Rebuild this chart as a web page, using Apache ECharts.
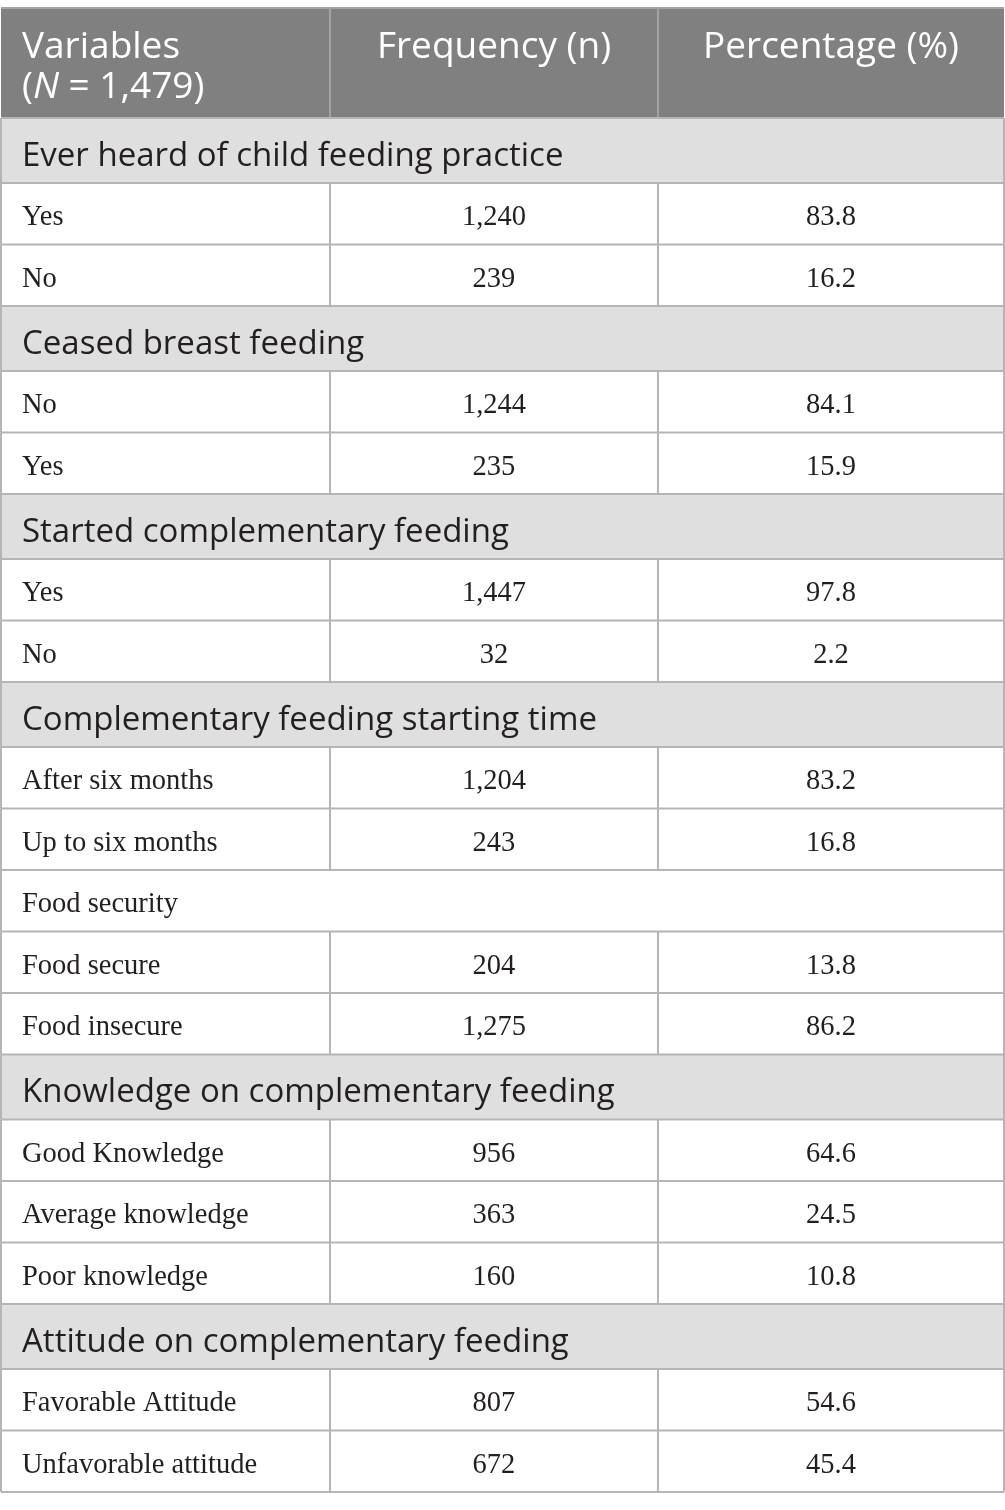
<!DOCTYPE html>
<html>
<head>
<meta charset="utf-8">
<script src="https://cdn.jsdelivr.net/npm/echarts@6/dist/echarts.min.js"></script>
<style>
html, body { margin: 0; padding: 0; background: #fff; }
#main { width: 1005px; height: 1510px; }
</style>
</head>
<body>
<div id="main"></div>
<script>
// table content
var headers = ['Variables', 'Frequency (n)', 'Percentage (%)'];
var sampleSize = '1,479';
var labels = [
    'Ever heard of child feeding practice', 'Yes', 'No',
    'Ceased breast feeding', 'No', 'Yes',
    'Started complementary feeding', 'Yes', 'No',
    'Complementary feeding starting time', 'After six months', 'Up to six months',
    'Food security', 'Food secure', 'Food insecure',
    'Knowledge on complementary feeding', 'Good Knowledge', 'Average knowledge', 'Poor knowledge',
    'Attitude on complementary feeding', 'Favorable Attitude', 'Unfavorable attitude'
];
var frequency = [
    null, 1240, 239,
    null, 1244, 235,
    null, 1447, 32,
    null, 1204, 243,
    null, 204, 1275,
    null, 956, 363, 160,
    null, 807, 672
];
var percentage = [
    null, 83.8, 16.2,
    null, 84.1, 15.9,
    null, 97.8, 2.2,
    null, 83.2, 16.8,
    null, 13.8, 86.2,
    null, 64.6, 24.5, 10.8,
    null, 54.6, 45.4
];
var rowKind = [
    'section', 'row', 'row',
    'section', 'row', 'row',
    'section', 'row', 'row',
    'section', 'row', 'row',
    'plain', 'row', 'row',
    'section', 'row', 'row', 'row',
    'section', 'row', 'row'
];

/* 行高(单位 = 一行数据) */
var kindHeight = { head: 1.79, section: 1.057, row: 1, plain: 1 };
var colEdges = [0, 0.328, 0.655, 1];

var rows = [];
var y = 0;
rows.push({ kind: 'head', y0: y, y1: y + kindHeight.head });
y += kindHeight.head;
labels.forEach(function (name, i) {
    var h = kindHeight[rowKind[i]];
    rows.push({ kind: rowKind[i], y0: y, y1: y + h, label: name, freq: frequency[i], pct: percentage[i] });
    y += h;
});
var total = y;

var sansFont = '"Open Sans", "Noto Sans", sans-serif';
var serifFont = '"Liberation Serif", "DejaVu Serif", serif';
var lineColor = '#b5b5b5';
var headSize = 37, sectionSize = 33, cellSize = 28.5;

var renderRow = function (params, api) {
    var r = rows[params.dataIndex];
    var top = api.coord([0, r.y0])[1];
    var bottom = api.coord([0, r.y1])[1];
    var xs = colEdges.map(function (e) { return api.coord([e, r.y0])[0]; });
    var mid = (top + bottom) / 2 + 4;
    var children = [];
    var line = function (x1, y1, x2, y2, color) {
        children.push({
            type: 'line', z2: 10,
            shape: { x1: x1, y1: y1, x2: x2, y2: y2 },
            style: { stroke: color || lineColor, lineWidth: 2 }
        });
    };
    var text = function (str, x, yy, align, font, size, color, extra) {
        var st = {
            text: str, x: x, y: yy, align: align, verticalAlign: 'middle',
            fontFamily: font, fontSize: size, fill: color || '#231f20'
        };
        if (extra) { for (var k in extra) st[k] = extra[k]; }
        children.push({ type: 'text', z2: 20, style: st });
    };

    if (r.kind === 'head') {
        children.push({
            type: 'rect', z2: 0,
            shape: { x: xs[0], y: top, width: xs[3] - xs[0], height: bottom - top },
            style: { fill: '#808080' }
        });
        line(xs[1], top, xs[1], bottom, '#a3a3a3');
        line(xs[2], top, xs[2], bottom, '#a3a3a3');
        line(xs[0], top, xs[3], top, '#a3a3a3');
        var ht = top + 19;
        text(headers[0] + '\n({it|N} = ' + sampleSize + ')', xs[0] + 21, ht, 'left', sansFont, headSize, '#fff', {
            verticalAlign: 'top', lineHeight: 40,
            rich: { it: { fontStyle: 'italic', fontFamily: sansFont, fontSize: headSize, fill: '#fff', lineHeight: 40 } }
        });
        text(headers[1], (xs[1] + xs[2]) / 2, ht, 'center', sansFont, headSize, '#fff', { verticalAlign: 'top', lineHeight: 40 });
        text(headers[2], (xs[2] + xs[3]) / 2, ht, 'center', sansFont, headSize, '#fff', { verticalAlign: 'top', lineHeight: 40 });
    } else if (r.kind === 'section') {
        children.push({
            type: 'rect', z2: 0,
            shape: { x: xs[0], y: top, width: xs[3] - xs[0], height: bottom - top },
            style: { fill: '#e0dfe0' }
        });
        text(r.label, xs[0] + 21, mid + 2, 'left', sansFont, sectionSize);
    } else if (r.kind === 'plain') {
        text(r.label, xs[0] + 21, mid, 'left', serifFont, cellSize);
    } else {
        text(r.label, xs[0] + 21, mid, 'left', serifFont, cellSize);
        text(r.freq.toLocaleString('en-US'), (xs[1] + xs[2]) / 2, mid, 'center', serifFont, cellSize);
        text(r.pct.toFixed(1), (xs[2] + xs[3]) / 2, mid, 'center', serifFont, cellSize);
        line(xs[1], top, xs[1], bottom);
        line(xs[2], top, xs[2], bottom);
    }
    if (r.kind !== 'head') {
        line(xs[0], top, xs[0], bottom);
        line(xs[3], top, xs[3], bottom);
    }
    line(xs[0], bottom, xs[3], bottom);
    return { type: 'group', children: children };
};

var box = document.getElementById('main');
var myChart = echarts.init(box);
var options = {
    animation: false,
    grid: { left: 1, right: 1, top: 8, bottom: 18 },
    xAxis: { type: 'value', min: 0, max: 1, show: false },
    yAxis: { type: 'value', min: 0, max: total, inverse: true, show: false },
    series: [{
        type: 'custom',
        renderItem: renderRow,
        encode: { x: 0, y: [1, 2] },
        data: rows.map(function (r, i) { return [i, r.y0, r.y1]; }),
        silent: true
    }]
};
myChart.setOption(options);
</script>
</body>
</html>
